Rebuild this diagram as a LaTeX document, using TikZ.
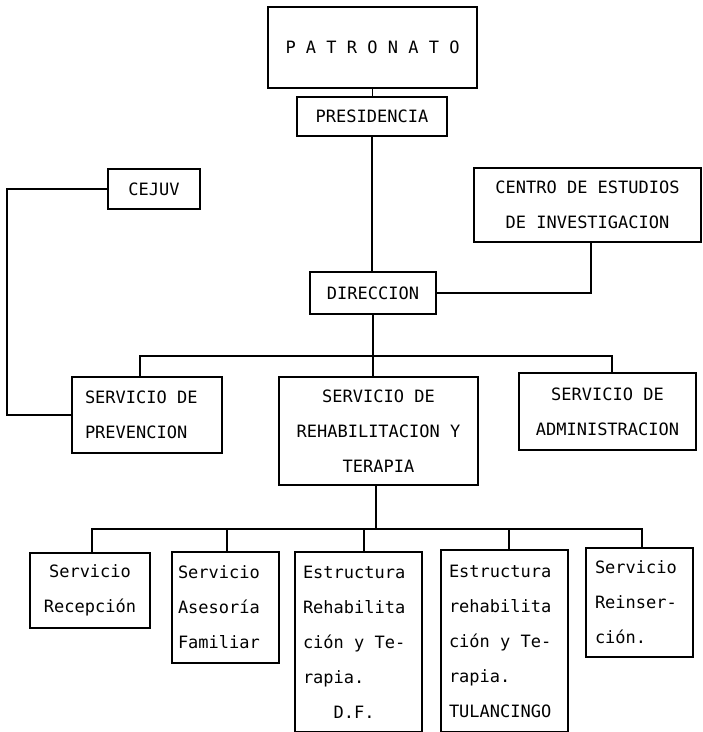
\documentclass[tikz,border=0pt]{standalone}
\usepackage{fontspec}
\setmonofont{DejaVu Sans Mono}
\begin{document}
\begin{tikzpicture}[x=1pt,y=-1pt,
  box/.style={draw, line width=1.8pt, inner ysep=0pt, inner xsep=0pt,
    font=\ttfamily\fontsize{17}{35}\selectfont, align=center,
    execute at begin node={\spaceskip=0.602em\relax\xspaceskip=0.602em\relax}},
  lbox/.style={box, align=left},
  conn/.style={line width=1.6pt}]
\useasboundingbox (0,0) rectangle (703,732);
\fill[white] (0,0) rectangle (703,732);

% top
\node[box, minimum width=209, minimum height=81] (pat) at (372.5,47.5) {P A T R O N A T O};
\node[box, minimum width=150, minimum height=39] (pres) at (372,116.5) {PRESIDENCIA};
\node[box, minimum width=92, minimum height=40] (cejuv) at (154,189) {CEJUV};
\node[box, minimum width=227, minimum height=74] (centro) at (587.5,205) {CENTRO DE ESTUDIOS\\DE INVESTIGACION};
\node[box, minimum width=126, minimum height=42] (dir) at (373,293) {DIRECCION};

% second level
\node[lbox, text width=124, inner xsep=13, minimum height=76] (prev) at (147,415) {SERVICIO DE\\PREVENCION};
\node[box, minimum width=199, minimum height=108] (rehab) at (378.5,431) {SERVICIO DE\\REHABILITACION Y\\TERAPIA};
\node[box, minimum width=177, minimum height=77] (admin) at (607.5,411.5) {SERVICIO DE\\ADMINISTRACION};

% third level
\node[box, minimum width=120, minimum height=75] (recep) at (90,590.5) {Servicio\\Recepción};
\node[lbox, text width=95, inner xsep=6, minimum height=111] (ases) at (225.5,607.5) {Servicio\\Asesoría\\Familiar};
\node[lbox, text width=111, inner xsep=8, minimum height=180] (df) at (358.5,642) {Estructura\\Rehabilita\\ción y Te-\\rapia.\\\phantom{xxx}D.F.};
\node[lbox, text width=111, inner xsep=8, minimum height=182] (tul) at (504.5,641) {Estructura\\rehabilita\\ción y Te-\\rapia.\\TULANCINGO};
\node[lbox, text width=89, inner xsep=9, minimum height=109] (reins) at (639.5,602.5) {Servicio\\Reinser-\\ción.};

% connectors
\draw[conn] (pat.south) -- (pat.south |- pres.north);
\draw[conn] (pres.south) -- (pres.south |- dir.north);
\coordinate (lcorner) at (7,415);
\draw[conn] (cejuv.west) -| (lcorner) -- (prev.west);
\coordinate (cdrop) at ([xshift=3.5]centro.south);
\draw[conn] (cdrop) |- (dir.east);

\coordinate (bar1) at (373,356);
\coordinate (pdrop) at ([xshift=-7]prev.north);
\coordinate (adrop) at ([xshift=4.5]admin.north);
\draw[conn] (pdrop) |- (bar1) -| (adrop);
\draw[conn] (dir.south) -- (dir.south |- rehab.north);

\coordinate (bar2) at (376,529);
\coordinate (r1) at ([xshift=2]recep.north);
\coordinate (r2) at ([xshift=1.5]ases.north);
\coordinate (r3) at ([xshift=5.5]df.north);
\coordinate (r4) at ([xshift=4.5]tul.north);
\coordinate (r5) at ([xshift=2.5]reins.north);
\coordinate (rs) at ([xshift=-2.5]rehab.south);
\draw[conn] (rs) -- (rs |- bar2);
\draw[conn] (r1) |- (bar2) -| (r5);
\draw[conn] (r2) -- (r2 |- bar2);
\draw[conn] (r3) -- (r3 |- bar2);
\draw[conn] (r4) -- (r4 |- bar2);
\end{tikzpicture}
\end{document}
